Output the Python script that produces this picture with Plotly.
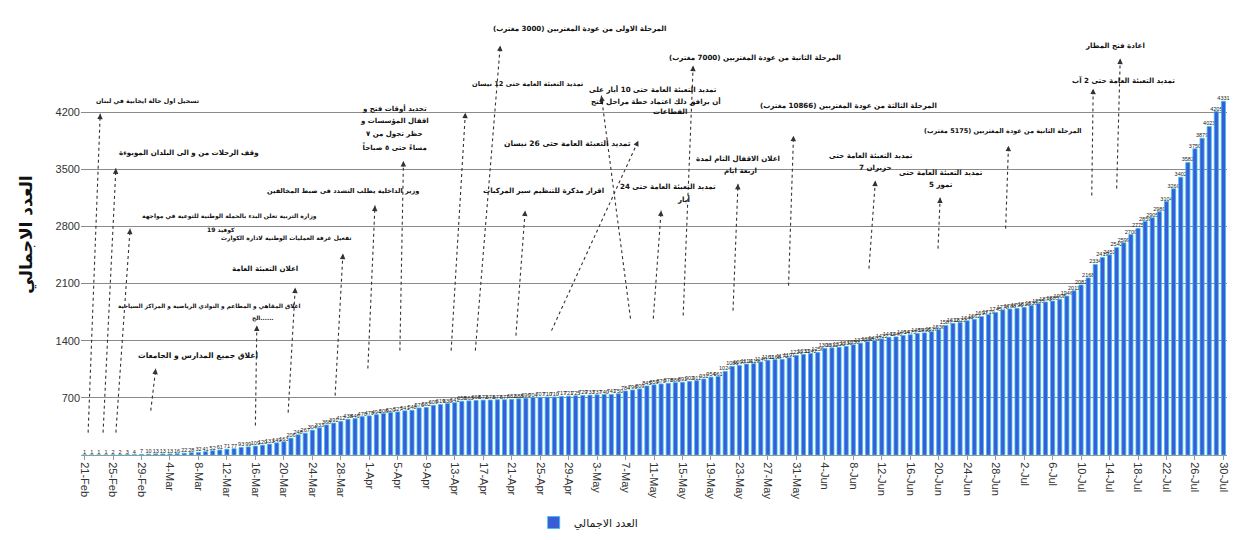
import pandas as pd
import plotly.graph_objects as go

# ---------------- data (cumulative cases) ----------------
feb = [1, 1, 1, 1, 2, 2, 3, 4, 7]
mar = [10, 13, 13, 13, 16, 22, 28, 32, 41, 52, 61, 71, 77, 93, 99, 109, 120, 133, 149, 163,
       206, 248, 267, 304, 333, 368, 391, 412, 438, 446, 470]
apr = [479, 494, 508, 520, 527, 541, 548, 576, 582, 609, 619, 630, 641, 658, 663, 668, 672, 673,
       677, 677, 682, 688, 696, 704, 707, 710, 710, 717, 721, 725]
may = [729, 733, 737, 740, 741, 750, 784, 796, 809, 845, 859, 870, 878, 886, 891, 902, 911, 931,
       954, 961, 1024, 1086, 1097, 1114, 1119, 1140, 1161, 1168, 1172, 1191, 1220]
jun = [1233, 1242, 1256, 1306, 1312, 1320, 1331, 1350, 1370, 1388, 1402, 1422, 1442, 1446, 1464,
       1473, 1489, 1495, 1510, 1536, 1587, 1612, 1622, 1644, 1662, 1697, 1719, 1745, 1778, 1788]
jul = [1796, 1810, 1830, 1855, 1873, 1885, 1908, 1946, 2011, 2082, 2168, 2334, 2419, 2451, 2542,
       2599, 2700, 2775, 2859, 2905, 2980, 3104, 3260, 3402, 3582, 3750, 3879, 4023, 4205, 4331]

values = feb + mar + apr + may + jun + jul
dates = pd.date_range("2020-02-21", "2020-07-30", freq="D")
categories = [f"{d.day}-{d.strftime('%b')}" for d in dates]
tick_labels = categories[::4]
y_ticks = [700, 1400, 2100, 2800, 3500, 4200]
series_name = "العدد الاجمالي"

# events: list of text lines [(text, x, y)], arrow tail (x, y), arrow head (x, y)
# x in day index, y in cases
events = [
    ([("تسجيل اول حالة ايجابية في لبنان", 8.9, 4340)], (0.5, 274), (2.2, 4180)),
    ([("وقف الرحلات من و الى البلدان الموبوءة", 14.7, 3702)], (2.6, 274), (4.4, 3510)),
    ([("وزارة التربية تعلن البدء بالحملة الوطنية للتوعية في مواجهة", 20.4, 2931),
      ("كوفيد 19", 19.2, 2760)], (4.4, 274), (6.4, 2772)),
    ([("اغلاق جميع المدارس و الجامعات", 16.0, 1217)], (9.3, 544), (10.0, 1058)),
    ([("اغلاق المقاهي و المطاعم و النوادي الرياضية و المراكز السياحية", 17.6, 1817),
      ("الخ......", 25.0, 1670)], (24.0, 360), (24.2, 1585)),
    ([("اعلان التعبئة العامة", 25.4, 2282)], (28.6, 519), (29.6, 2050)),
    ([("تفعيل غرفة العمليات الوطنية لادارة الكوارث", 28.3, 2662)], (35.2, 727), (36.3, 2466)),
    ([("وزير الداخلية يطلب التشدد في ضبط المخالفين", 36.3, 3238)], (39.8, 1058), (40.8, 3054)),
    ([("تحديد أوقات فتح و", 43.6, 4241), ("اقفال المؤسسات و", 43.6, 4094),
      ("حظر تجول من ٧", 43.6, 3935), ("مساءً حتى ٥ صباحاً", 43.6, 3775)],
     (44.3, 1278), (44.8, 3600)),
    ([("تمديد التعبئة العامة حتى 12 نيسان", 62.2, 4548)], (51.5, 1278), (53.5, 4192)),
    ([("المرحلة الاولى من عودة المغتربين (3000 مغترب)", 69.5, 5221)], (54.9, 1278), (58.4, 5013)),
    ([("اقرار مذكرة للتنظيم سير المركبات", 64.5, 3238)], (60.6, 1462), (61.9, 2993)),
    ([("تمديد التعبئة العامة حتى 26 نيسان", 67.9, 3812)], (65.6, 1523), (77.8, 3849)),
    ([("تمديد التعبئة العامة حتى 10 أيار على", 79.9, 4487),
      ("أن يرافق ذلك اعتماد خطة مراحل فتح", 80.3, 4340),
      ("القطاعات", 82.2, 4205)], (76.7, 1670), (72.6, 4400)),
    ([("تمديد التعبئة العامة حتى 24", 82.0, 3287), ("أيار", 84.1, 3140)], (79.9, 1670), (81.0, 2993)),
    ([("المرحلة الثانية من عودة المغتربين (7000 مغترب)", 94.2, 4866)], (84.1, 1707), (85.5, 4768)),
    ([("اعلان الاقفال التام لمدة", 91.8, 3629), ("اربعة ايام", 92.1, 3482)], (91.1, 1768), (91.8, 3320)),
    ([("المرحلة الثالثة من عودة المغتربين (10866 مغترب)", 107.3, 4278)], (98.9, 2074), (99.6, 3910)),
    ([("تمديد التعبئة العامة حتى", 110.5, 3665), ("7 حزيران", 111.1, 3518)], (110.2, 2282), (111.1, 3360)),
    ([("تمديد التعبئة العامة حتى", 120.3, 3457), ("5 تموز", 120.3, 3311)], (119.9, 2527), (120.2, 3153)),
    ([("المرحلة الثانية من عودة المغتربين (5175 مغترب)", 129.0, 3972)], (129.4, 2772), (129.8, 3788)),
    ([("تمديد التعبئة العامة حتى 2 آب", 145.9, 4585)], (141.5, 3177), (141.7, 4486)),
    ([("اعادة فتح المطار", 144.8, 5013)], (145.0, 3263), (145.5, 4854)),
]

# per-event text size (style, by event index)
text_size_default = 7.1
text_size_override = {0: 6.3, 2: 6.0, 3: 7.6, 4: 5.8, 6: 6.0, 7: 6.6, 8: 7.0, 9: 6.6, 12: 7.5, 20: 6.5}

# ---------------- figure ----------------
fig = go.Figure()
fig.add_trace(go.Bar(
    x=categories, y=values, name=series_name,
    marker=dict(color="#3b5bd8", line=dict(color="#2fc3ef", width=0.8)),
    text=[str(v) for v in values], textposition="outside", textangle=0,
    textfont=dict(size=5.5, color="#222222", family="Arial, Liberation Sans, sans-serif"),
    constraintext="none", cliponaxis=False,
))

W, H = 1255, 540
ML, MR, MT, MB = 73, 36, 6, 93
YMAX = 5400
px_per_x = (W - ML - MR) / 161.0
px_per_y = (H - MT - MB) / YMAX

shapes, annots = [], []
for i, (lines, tail, head) in enumerate(events):
    shapes.append(dict(type="line", xref="x", yref="y", x0=tail[0], y0=tail[1], x1=head[0], y1=head[1],
                       line=dict(color="#333333", width=1.1, dash="dot"), layer="above"))
    dxp = (head[0] - tail[0]) * px_per_x
    dyp = (head[1] - tail[1]) * px_per_y
    L = (dxp ** 2 + dyp ** 2) ** 0.5
    f = 7.0 / L
    annots.append(dict(x=head[0], y=head[1], xref="x", yref="y",
                       ax=head[0] - (head[0] - tail[0]) * f, ay=head[1] - (head[1] - tail[1]) * f,
                       axref="x", ayref="y", text="", showarrow=True,
                       arrowhead=2, arrowsize=1, arrowwidth=1.1, arrowcolor="#333333"))
    size = text_size_override.get(i, text_size_default)
    for text, tx, ty in lines:
        annots.append(dict(x=tx, y=ty, xref="x", yref="y", text=f"<b>{text}</b>",
                           showarrow=False,
                           font=dict(family="DejaVu Sans, Arial, sans-serif", size=size, color="#111111")))

fig.update_layout(
    width=W, height=H,
    margin=dict(l=ML, r=MR, t=MT, b=MB),
    plot_bgcolor="white", paper_bgcolor="white",
    bargap=0.42,
    showlegend=True,
    legend=dict(orientation="h", x=0.443, xanchor="center", y=-0.153, yanchor="middle",
                font=dict(size=11, color="#222222", family="DejaVu Sans, Arial, sans-serif")),
    shapes=shapes, annotations=annots,
    font=dict(family="DejaVu Sans, Arial, sans-serif"),
)
fig.update_xaxes(type="category", range=[-0.5, 160.5], tickmode="array", tickvals=tick_labels,
                 ticktext=tick_labels, tickangle=90, tickfont=dict(size=11, color="#333333",
                 family="Arial, Liberation Sans, sans-serif"),
                 showline=True, linecolor="#999999", linewidth=1, ticks="outside", ticklen=4,
                 tickcolor="#999999", showgrid=False)
fig.update_yaxes(range=[0, YMAX], tickmode="array", tickvals=y_ticks, showgrid=True,
                 gridcolor="#8a8a8a", gridwidth=1, zeroline=False, showline=False,
                 tickfont=dict(size=11, color="#333333", family="Arial, Liberation Sans, sans-serif"),
                 title=dict(text="<b>العدد الاجمالي</b>", font=dict(size=17, color="#111111"), standoff=18))

fig.write_html("out.html")
